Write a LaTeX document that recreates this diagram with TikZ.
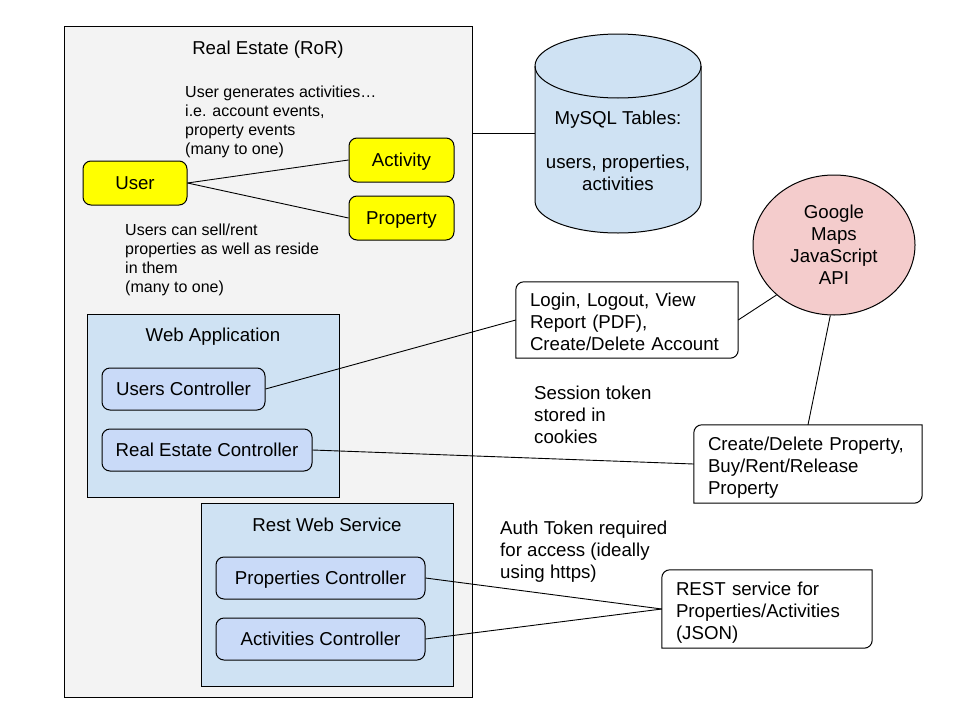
\documentclass[tikz,border=0pt]{standalone}
\usepackage{fontspec}
\setmainfont{Liberation Sans}
\usepackage{xcolor}
\usepackage{tikz}
\usetikzlibrary{shapes.geometric}

\definecolor{boxgray}{HTML}{F3F3F3}
\definecolor{appblue}{HTML}{CFE2F3}
\definecolor{ctlblue}{HTML}{C9DAF8}
\definecolor{mapred}{HTML}{F4CCCC}
\definecolor{entyellow}{HTML}{FFFF00}

% frame of a note: top left and bottom right corners rounded
\newcommand{\noteframe}[1]{%
	\draw[frameline] ([yshift=-8pt]#1.north west) arc[start angle=180,end angle=90,radius=8pt]
	-- (#1.north east) -- ([yshift=8pt]#1.south east) arc[start angle=0,end angle=-90,radius=8pt]
	-- (#1.south west) -- cycle;}

\begin{document}
\begin{tikzpicture}[x=1pt,y=-1pt,
		font=\fontsize{18.67}{22}\selectfont,
		oneline/.style={text height=13.4pt, text depth=0pt},
		title/.style={oneline, inner sep=0pt},
		container/.style={draw, line width=1pt, inner sep=0pt},
		entity/.style={oneline, draw, line width=1pt, rounded corners=8pt, fill=entyellow, inner sep=0pt, minimum height=44pt},
		ctl/.style={oneline, draw, line width=1pt, rounded corners=8pt, fill=ctlblue, inner sep=0pt, minimum height=42pt},
		remark/.style={align=left, inner sep=0pt, anchor=west},
		smallremark/.style={remark, font=\fontsize{16}{19}\selectfont},
		note/.style={align=left, inner xsep=14pt, inner ysep=0pt, fill=white,
			execute at begin node={\rule{0pt}{20pt}}, execute at end node={\rule[-4pt]{0pt}{4pt}}},
		frameline/.style={line width=1pt},
		conn/.style={line width=0.9pt}]
		\useasboundingbox (0,0) rectangle (960,720);
		%
		\node[container, fill=boxgray, minimum width=408pt, minimum height=671pt] (ror) at (268,361.5) {};
		\node[title] (rortitle) at (268,47.4) {Real Estate (RoR)};
		\node[smallremark] (actnote) at (185,122) {User generates activities…\\i.e. account events,\\property events\\(many to one)};
		\node[entity, minimum width=104pt] (user) at (135,183) {User};
		\node[entity, minimum width=105pt] (activity) at (401.5,160) {Activity};
		\node[entity, minimum width=105pt] (property) at (401.5,218) {Property};
		\node[smallremark] (propnote) at (125,259.5) {Users can sell/rent\\properties as well as reside\\in them\\(many to one)};
		%
		\node[container, fill=appblue, minimum width=252pt, minimum height=183pt] (webapp) at (213,405.5) {};
		\node[title] (webapptitle) at (213,335) {Web Application};
		\node[ctl, minimum width=163pt] (usersctl) at (183.5,389) {Users Controller};
		\node[ctl, minimum width=210pt] (estatectl) at (207,450) {Real Estate Controller};
		%
		\node[container, fill=appblue, minimum width=252pt, minimum height=183pt] (restws) at (327,594.5) {};
		\node[title] (restwstitle) at (327,524.5) {Rest Web Service};
		\node[ctl, minimum width=209pt] (propsctl) at (320.5,578) {Properties Controller};
		\node[ctl, minimum width=209pt] (actsctl) at (320.5,639) {Activities Controller};
		%
		\draw[frameline, fill=appblue] (535,66) -- (535,201) arc[start angle=180,end angle=360,x radius=83pt,y radius=32pt]
		-- (701,66) arc[start angle=0,end angle=180,x radius=83pt,y radius=32pt] -- cycle;
		\draw[frameline] (535,66) arc[start angle=180,end angle=360,x radius=83pt,y radius=32pt];
		\node[align=center, inner sep=0pt] (tables) at (618,151) {MySQL Tables:\\[22pt]users, properties,\\activities};
		\coordinate (dbside) at (535,133);
		%
		\node[ellipse, draw, line width=1pt, fill=mapred, minimum width=162pt, minimum height=140pt, inner sep=0pt, align=center] (gmaps) at (834,245) {Google\\Maps\\JavaScript\\API};
		%
		\node[note, text width=194pt, minimum height=76pt] (login) at (627,320) {Login, Logout, View\\Report (PDF),\\Create/Delete Account};
		\noteframe{login}
		\node[note, text width=200pt, minimum height=78pt] (create) at (808,464) {Create/Delete Property,\\Buy/Rent/Release\\Property};
		\noteframe{create}
		\node[note, text width=182pt, minimum height=78pt] (rest) at (767,609) {REST service for\\Properties/Activities\\(JSON)};
		\noteframe{rest}
		\node[remark] (session) at (534,414.6) {Session token\\stored in\\cookies};
		\node[remark] (auth) at (500,552) {Auth Token required\\for access (ideally\\using https)};
		%
		\path[conn]
		(user.east) edge (activity.west)
		(user.east) edge (property.west)
		(ror.east |- dbside) edge (dbside)
		(usersctl.east) edge (login.west)
		(login.east) edge (gmaps.221)
		(estatectl.east) edge (create.west)
		(create.north) edge (gmaps.267)
		(propsctl.east) edge (rest.west)
		(actsctl.east) edge (rest.west);
	\end{tikzpicture}
\end{document}
